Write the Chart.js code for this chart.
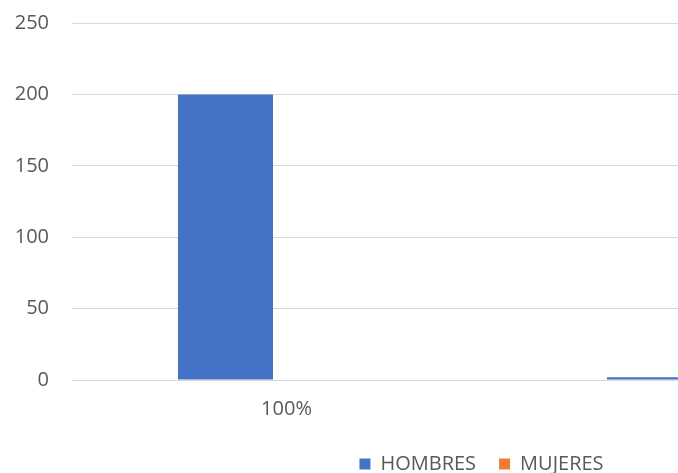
<!DOCTYPE html>
<html>
<head>
<meta charset="utf-8">
<script src="https://cdn.jsdelivr.net/npm/chart.js@4/dist/chart.umd.min.js"></script>
<style>
  html, body { margin:0; padding:0; background:#fff; overflow:hidden; }
  #wrap { width:678px; height:473px; overflow:hidden; position:relative; }
  #chart { display:block; }
</style>
</head>
<body>
<div id="wrap"><canvas id="chart" width="963" height="484"></canvas></div>
<script>
// categories and series
const labels = ['100%', '0%'];
const hombres = [200, 2];
const mujeres = [0, 0];
const yTicks = { min:0, max:250, step:50 };

const FONT = { family:"'Open Sans', 'DejaVu Sans', sans-serif", size:20 };
const TXT = '#595959';

const ctx = document.getElementById('chart').getContext('2d');
window.mainChart = new Chart(ctx, {
  type:'bar',
  data:{
    labels: labels,
    datasets:[
      { label:'HOMBRES', data:hombres, backgroundColor:'#4472C4', categoryPercentage:0.569, barPercentage:0.779 },
      { label:'MUJERES', data:mujeres, backgroundColor:'#ED7D31', categoryPercentage:0.569, barPercentage:0.779 }
    ]
  },
  options:{
    animation:false, responsive:false, devicePixelRatio:1,
    layout:{ padding:{ top:23, left:0, right:0, bottom:0 } },
    scales:{
      x:{
        grid:{ display:false, drawTicks:false }, border:{ display:false },
        ticks:{ color:TXT, font:FONT, padding:17, maxRotation:0 },
        afterFit: s => { s.height = 51; }
      },
      y:{
        min:yTicks.min, max:yTicks.max,
        // invisible tick marks keep the labels clear of the grid
        grid:{ color:'#d9d9d9', lineWidth:1, drawTicks:true, tickLength:23, tickColor:'rgba(0,0,0,0)' },
        border:{ display:false },
        ticks:{ stepSize:yTicks.step, color:TXT, font:FONT, padding:0 },
        afterFit: s => { s.width = 72; }
      },
      // empty right-hand spacer so the legend sits where it should
      pad:{
        type:'linear', position:'right',
        grid:{ display:false }, border:{ display:false },
        ticks:{ display:false },
        afterFit: s => { s.width = 33; }
      }
    },
    plugins:{
      legend:{
        position:'bottom',
        labels:{ color:TXT, font:FONT, boxWidth:11, boxHeight:11, padding:23 }
      },
      tooltip:{ enabled:false }
    }
  }
});
</script>
</body>
</html>
